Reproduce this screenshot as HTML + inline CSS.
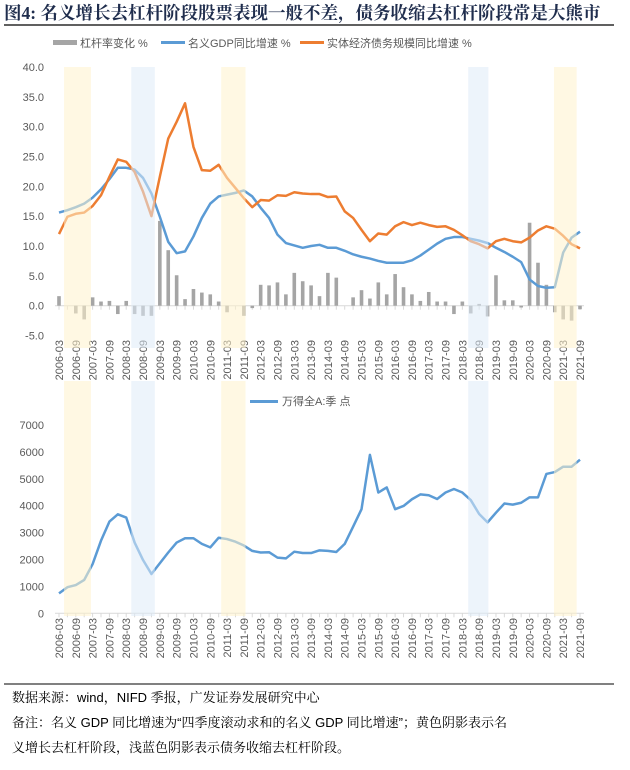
<!DOCTYPE html>
<html><head><meta charset="utf-8">
<style>
body{margin:0;background:#fff;width:630px;height:770px;overflow:hidden;font-family:"Liberation Sans","Noto Sans CJK SC",sans-serif;}
svg{position:absolute;left:0;top:0}
</style></head>
<body>
<svg id="chart" width="630" height="770">
  <text x="4" y="19" font-family="'Liberation Serif','Noto Serif CJK SC',serif" font-weight="bold" font-size="17.5" fill="#1f2d4d">图4: 名义增长去杠杆阶段股票表现一般不差，债务收缩去杠杆阶段常是大熊市</text>
  <line x1="4" y1="25" x2="614" y2="25" stroke="#000" stroke-width="1.2"/>
  <g font-size="11" fill="#595959">
    <g><rect x="53" y="40" width="24" height="5" fill="#a5a5a5"/><text x="80" y="47">杠杆率变化 %</text></g>
    <g><rect x="161" y="41" width="24" height="3" fill="#5b9bd5"/><text x="188" y="47">名义GDP同比增速 %</text></g>
    <g><rect x="300" y="41" width="24" height="3" fill="#ed7d31"/><text x="327" y="47">实体经济债务规模同比增速 %</text></g>
  </g>
  <g id="topChart"></g>
  <g id="botChart"></g>
  <g><rect x="250" y="400" width="28" height="3" fill="#5b9bd5"/><text x="282" y="405" font-size="11" fill="#595959">万得全A:季 点</text></g>
  <line x1="4" y1="684" x2="614" y2="684" stroke="#000" stroke-width="1"/>
  <g font-size="13" fill="#000" font-family="'Liberation Sans','Noto Serif CJK SC',serif">
    <text x="12" y="702">数据来源：wind，NIFD 季报，广发证券发展研究中心</text>
    <text x="12" y="727">备注：名义 GDP 同比增速为“四季度滚动求和的名义 GDP 同比增速”；黄色阴影表示名</text>
    <text x="12" y="752">义增长去杠杆阶段，浅蓝色阴影表示债务收缩去杠杆阶段。</text>
  </g>
</svg>
<script>
const leverage=[1.6,0,-1.3,-2.3,1.4,0.7,0.8,-1.4,0.8,-1.4,-1.7,-1.7,14.2,9.3,5.1,1.1,2.8,2.2,1.9,0.7,-1.1,0,-1.7,-0.4,3.5,3.4,3.9,1.9,5.5,4.1,3.4,1.6,5.5,4.7,0,1.4,2.6,1.2,3.9,1.9,5.3,3.1,1.9,0.8,2.3,0.7,0.7,-1.4,0.7,-1.3,0.3,-1.8,5.1,0.9,0.9,-0.3,13.9,7.2,3.5,-1.1,-2.3,-2.5,-0.6];
const gdp=[15.6,16.0,16.5,17.1,18.1,19.5,21.2,23.1,23.1,22.8,21.4,18.8,14.9,10.7,8.8,9.1,11.6,14.7,17.1,18.3,18.6,18.9,19.3,18.3,16.4,14.7,11.9,10.5,10.1,9.7,10.0,10.2,9.7,9.7,9.2,8.6,8.2,7.9,7.5,7.2,7.2,7.2,7.6,8.4,9.4,10.4,11.2,11.5,11.5,11.2,10.9,10.5,9.7,9.0,8.2,7.3,4.4,3.3,3.0,3.1,8.9,11.4,12.4];
const debt=[12.0,14.9,15.4,15.6,16.7,18.5,21.6,24.5,24.1,22.4,19.1,15.0,21.6,28.0,30.8,33.9,26.6,22.7,22.6,23.6,21.4,19.7,18.0,16.5,17.7,17.6,18.5,18.4,19.0,18.8,18.7,18.7,18.2,18.3,15.8,14.7,12.7,10.8,12.1,11.9,13.3,14.0,13.5,13.9,13.5,13.2,13.3,12.7,11.8,10.8,10.3,9.6,10.8,11.2,10.8,10.6,11.4,12.6,13.3,12.9,11.7,10.3,9.6];
const windA=[740,970,1050,1240,1830,2700,3410,3680,3560,2630,1980,1460,1860,2260,2630,2790,2790,2580,2450,2810,2760,2660,2520,2320,2260,2270,2070,2040,2290,2240,2240,2340,2320,2280,2580,3220,3870,5890,4490,4680,3870,3990,4240,4420,4390,4250,4490,4620,4490,4210,3690,3380,3740,4080,4040,4110,4310,4310,5180,5250,5450,5450,5710];
const topTicks=[-5,0,5,10,15,20,25,30,35,40];
const botTicks=[0,1000,2000,3000,4000,5000,6000,7000];
const yellowBands=[[0.6,3.8],[19.3,22.2],[58.9,61.6]];
const blueBands=[[8.6,11.4],[48.7,51.1]];

const NS='http://www.w3.org/2000/svg';
const N=63;
const xq=i=>59+i*(521/62);
const labels=[];for(let y=2006;y<=2021;y++){labels.push(y+'-03');labels.push(y+'-09');}
function mk(tag,attrs,parent){const e=document.createElementNS(NS,tag);for(const k in attrs)e.setAttribute(k,attrs[k]);parent.appendChild(e);return e;}
const yTop=v=>305.7-v*5.97;
const yBot=v=>613.3-v*0.0269;

function axes(g,yf,ticks,fmt,zero,labTop){
  ticks.forEach(t=>{const tx=mk('text',{x:44,y:yf(t)+4,'text-anchor':'end','font-size':11,fill:'#595959'},g);tx.textContent=fmt(t);
    
    });
  const ax=mk('line',{x1:55,x2:584,y1:zero,y2:zero,stroke:'#d9d9d9','stroke-width':1},g);
  
  
  for(let i=0;i<N;i++){const tk=mk('line',{x1:xq(i),x2:xq(i),y1:zero,y2:zero+4,stroke:'#d9d9d9'},g);
    
    }
  labels.forEach((l,k)=>{const x=xq(k*2)+4;const t=mk('text',{x:0,y:0,transform:`translate(${x},${labTop}) rotate(-90)`,'text-anchor':'end','font-size':11,fill:'#595959'},g);t.textContent=l;
    
    });
}
function bands(g,t,b){
  yellowBands.forEach(bd=>{const r=mk('rect',{x:xq(bd[0]),y:t,width:xq(bd[1])-xq(bd[0]),height:b-t,fill:'#fff2cc',opacity:0.55},g);
    
    });
  blueBands.forEach(bd=>{const r=mk('rect',{x:xq(bd[0]),y:t,width:xq(bd[1])-xq(bd[0]),height:b-t,fill:'#deebf7',opacity:0.55},g);
    
    });
}
function line(g,data,yf,color,name){
  const p=mk('polyline',{points:data.map((v,i)=>xq(i)+','+yf(v)).join(' '),fill:'none',stroke:color,'stroke-width':2.5,'stroke-linejoin':'round'},g);
  
  
}
const topG=document.getElementById('topChart');
axes(topG,yTop,topTicks,t=>t.toFixed(1),yTop(0),340);
leverage.forEach((v,i)=>{const y0=yTop(0),y1=yTop(v);const r=mk('rect',{x:xq(i)-1.8,y:Math.min(y0,y1),width:3.6,height:Math.abs(y1-y0),fill:'#a5a5a5'},topG);
  
  });
line(topG,gdp,yTop,'#5b9bd5','gdp-growth-line');
line(topG,debt,yTop,'#ed7d31','debt-growth-line');
bands(topG,67,348);
const botG=document.getElementById('botChart');
axes(botG,yBot,botTicks,t=>String(t),yBot(0),618);
line(botG,windA,yBot,'#5b9bd5','wind-a-index-line');
bands(botG,381,616);
</script>
</body></html>
